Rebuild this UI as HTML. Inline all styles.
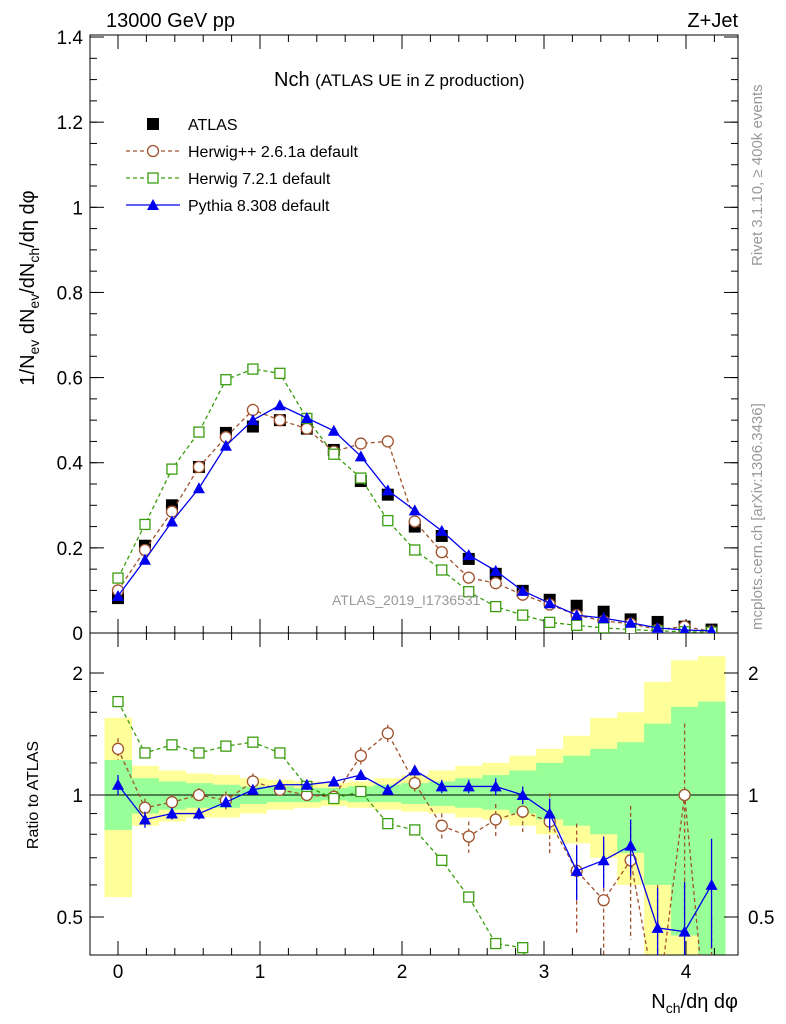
<!DOCTYPE html>
<html><head><meta charset="utf-8"><style>
html,body{margin:0;padding:0;background:#fff;overflow:hidden;width:786px;height:1024px;}
svg{display:block;font-family:"Liberation Sans",sans-serif;}
</style></head><body>
<svg id="chart" width="786" height="1024" viewBox="0 0 786 1024"></svg>
<script>
const xs=[0,0.19,0.38,0.57,0.76,0.95,1.14,1.33,1.52,1.71,1.90,2.09,2.28,2.47,2.66,2.85,3.04,3.23,3.42,3.61,3.80,3.99,4.18];
const atlas=[0.082,0.205,0.30,0.39,0.47,0.485,0.50,0.48,0.43,0.357,0.325,0.25,0.228,0.174,0.139,0.099,0.078,0.064,0.05,0.032,0.026,0.015,0.008];
const pythia=[0.087,0.172,0.262,0.34,0.44,0.50,0.535,0.505,0.475,0.415,0.335,0.288,0.24,0.183,0.146,0.099,0.07,0.042,0.035,0.024,0.012,0.007,0.005];
const herwigpp=[0.10,0.195,0.285,0.39,0.46,0.524,0.50,0.48,0.426,0.445,0.45,0.262,0.19,0.13,0.117,0.09,0.067,0.042,0.028,0.022,0.008,0.015,0.004];
const herwig7=[0.129,0.255,0.385,0.472,0.595,0.62,0.61,0.504,0.42,0.364,0.264,0.195,0.148,0.097,0.062,0.042,0.025,0.018,0.012,0.008,0.005,0.003,0.002];
const ratioPythia=[1.06,0.87,0.9,0.9,0.96,1.03,1.06,1.06,1.08,1.12,1.03,1.15,1.05,1.05,1.05,1.0,0.9,0.65,0.69,0.75,0.47,0.46,0.6];
const ratioPythiaErr=[0.06,0.04,0.03,0.03,0.03,0.03,0.03,0.03,0.03,0.03,0.03,0.03,0.04,0.04,0.05,0.05,0.08,0.1,0.1,0.12,0.12,0.15,0.18];
const ratioHpp=[1.3,0.93,0.96,1.0,0.97,1.08,1.03,1.0,0.99,1.25,1.42,1.07,0.84,0.79,0.87,0.91,0.86,0.65,0.55,0.69,0.3,1.0,0.2];
const ratioHppErr=[0.08,0.05,0.04,0.04,0.05,0.05,0.04,0.04,0.04,0.06,0.07,0.06,0.06,0.07,0.08,0.1,0.15,0.2,0.2,0.25,0.3,0.5,0.3];
const ratioH7=[1.7,1.27,1.33,1.27,1.32,1.35,1.27,1.05,0.98,1.02,0.85,0.82,0.69,0.56,0.43,0.42,0.2,0.2,0.2,0.2,0.2,0.2,0.2];
const yelLo=[0.56,0.84,0.86,0.88,0.88,0.9,0.92,0.93,0.94,0.93,0.92,0.91,0.9,0.88,0.87,0.84,0.8,0.76,0.7,0.6,0.4,0.3,0.3];
const yelHi=[1.55,1.18,1.15,1.13,1.12,1.1,1.09,1.08,1.07,1.08,1.1,1.12,1.15,1.18,1.2,1.25,1.3,1.4,1.55,1.6,1.9,2.15,2.2];
const grnLo=[0.82,0.9,0.92,0.93,0.93,0.95,0.96,0.96,0.97,0.96,0.96,0.95,0.94,0.93,0.92,0.9,0.87,0.84,0.8,0.72,0.6,0.45,0.4];
const grnHi=[1.22,1.1,1.08,1.07,1.06,1.05,1.05,1.04,1.04,1.05,1.06,1.07,1.08,1.1,1.12,1.15,1.2,1.25,1.3,1.35,1.5,1.65,1.7];
const mainTicks=[0,0.2,0.4,0.6,0.8,1,1.2,1.4];
const xTicks=[0,1,2,3,4];

const NS="http://www.w3.org/2000/svg";
const svg=document.getElementById('chart');
const L=90,R=738,MT=35,MB=633,RB=955;
const X=v=>118+v*142;
const Y=v=>633-v*425.7;
const YR=v=>795-Math.log2(v)*122;
function el(t,a,p){const e=document.createElementNS(NS,t);for(const k in a)e.setAttribute(k,a[k]);(p||svg).appendChild(e);return e;}
function txt(x,y,s,a){const e=el('text',Object.assign({x:x,y:y,'font-size':18,fill:'#000'},a||{}));e.textContent=s;return e;}

const defs=el('defs',{});
const cp=el('clipPath',{id:'rc'},defs);el('rect',{x:L,y:MB,width:R-L,height:RB-MB},cp);
const cm=el('clipPath',{id:'mc'},defs);el('rect',{x:L,y:MT,width:R-L,height:MB-MT},cm);

const gb=el('g',{'clip-path':'url(#rc)'});


xs.forEach((v,i)=>{
 const r=el('rect',{x:X(v)-13.5,y:YR(yelHi[i]),width:27.5,height:YR(yelLo[i])-YR(yelHi[i]),fill:'#ffff99'},gb);
 
 
});
xs.forEach((v,i)=>{
 const r=el('rect',{x:X(v)-13.5,y:YR(grnHi[i]),width:27.5,height:YR(grnLo[i])-YR(grnHi[i]),fill:'#99ff99'},gb);
 
 
});
el('line',{x1:L,x2:R,y1:YR(1),y2:YR(1),stroke:'#000','stroke-width':1},gb);

const f1=el('rect',{x:L,y:MT,width:R-L,height:MB-MT,fill:'none',stroke:'#000','stroke-width':1});

const f2=el('rect',{x:L,y:MB,width:R-L,height:RB-MB,fill:'none',stroke:'#000','stroke-width':1});


mainTicks.forEach(t=>{
 const y=Y(t);
 el('line',{x1:L,x2:L+14,y1:y,y2:y,stroke:'#000'});el('line',{x1:R,x2:R-14,y1:y,y2:y,stroke:'#000'});
 const lb=txt(83,y+7,String(t),{'text-anchor':'end','font-size':19});
 
});
for(let t=0.05;t<1.4;t+=0.05){const y=Y(t);el('line',{x1:L,x2:L+7,y1:y,y2:y,stroke:'#000'});el('line',{x1:R,x2:R-7,y1:y,y2:y,stroke:'#000'});}
xTicks.forEach(t=>{
 const x=X(t);
 [[MB,MB-14],[MT,MT+14],[RB,RB-14],[MB,MB+14]].forEach(p=>el('line',{x1:x,x2:x,y1:p[0],y2:p[1],stroke:'#000'}));
 const lb=txt(x,978,String(t),{'text-anchor':'middle','font-size':19});
 
});
for(let t=-0.2;t<4.4;t+=0.2){const x=X(t);if(x<L||x>R)continue;[[MB,MB-7],[MT,MT+7],[RB,RB-7],[MB,MB+7]].forEach(p=>el('line',{x1:x,x2:x,y1:p[0],y2:p[1],stroke:'#000'}));}
[[2,'2'],[1,'1'],[0.5,'0.5']].forEach(p=>{const y=YR(p[0]);el('line',{x1:L,x2:L+14,y1:y,y2:y,stroke:'#000'});el('line',{x1:R,x2:R-14,y1:y,y2:y,stroke:'#000'});
 const a=txt(83,y+7,p[1],{'text-anchor':'end','font-size':19});
 const b=txt(748,y+7,p[1],{'font-size':19});});
[0.6,0.7,0.8,0.9,1.2,1.4,1.6,1.8].forEach(t=>{const y=YR(t);el('line',{x1:L,x2:L+7,y1:y,y2:y,stroke:'#000'});el('line',{x1:R,x2:R-7,y1:y,y2:y,stroke:'#000'});});

function series(vals,yf,color,dash,marker,name,clip,errs){
 const g=el('g',{'clip-path':clip});
 
 const pts=xs.map((v,i)=>X(v)+','+yf(vals[i])).join(' ');
 el('polyline',{points:pts,fill:'none',stroke:color,'stroke-width':1.3,'stroke-dasharray':dash||'none'},g);
 xs.forEach((v,i)=>{
  const x=X(v),y=yf(vals[i]);
  if(errs){const e=errs[i];el('line',{x1:x,x2:x,y1:yf(vals[i]+e),y2:yf(Math.max(vals[i]-e,0.05)),stroke:color,'stroke-width':1.3,'stroke-dasharray':dash||'none'},g);}
  let m;
  if(marker==='circle')m=el('circle',{cx:x,cy:y,r:5.5,fill:'#fff',stroke:color,'stroke-width':1.3},g);
  else if(marker==='square')m=el('rect',{x:x-5,y:y-5,width:10,height:10,fill:'#fff',stroke:color,'stroke-width':1.3},g);
  else if(marker==='tri')m=el('path',{d:`M${x},${y-6} L${x+6},${y+5} L${x-6},${y+5} Z`,fill:color},g);
  else m=el('rect',{x:x-6,y:y-6,width:12,height:12,fill:'#000'},g);
  
 });
}
series(atlas,Y,'#000','0 100',null,'atlas-data','url(#mc)');
series(herwigpp,Y,'#a0522d','4,3','circle','herwigpp-main','url(#mc)');
series(herwig7,Y,'#3a9d0f','4,3','square','herwig7-main','url(#mc)');
series(pythia,Y,'#0000ee',null,'tri','pythia-main','url(#mc)');
series(ratioHpp,YR,'#a0522d','4,3','circle','herwigpp-ratio','url(#rc)',ratioHppErr);
series(ratioH7,YR,'#3a9d0f','4,3','square','herwig7-ratio','url(#rc)');
series(ratioPythia,YR,'#0000ee',null,'tri','pythia-ratio','url(#rc)',ratioPythiaErr);

let t;
t=txt(106,27,'13000 GeV pp',{'font-size':20});
t=txt(738,27,'Z+Jet',{'font-size':20,'text-anchor':'end'});
t=txt(274,86,'',{'font-size':20});t.innerHTML='Nch <tspan font-size="17">(ATLAS UE in Z production)</tspan>';
t=txt(332,605,'ATLAS_2019_I1736531',{'font-size':14,fill:'#999'});
const lg=el('g',{});
const leg=[['ATLAS','#000',null,null],['Herwig++ 2.6.1a default','#a0522d','4,3','circle'],['Herwig 7.2.1 default','#3a9d0f','4,3','square'],['Pythia 8.308 default','#0000ee',null,'tri']];
leg.forEach((l,i)=>{
 const y=124+i*27,x=153;
 if(i>0)el('line',{x1:126,x2:180,y1:y,y2:y,stroke:l[1],'stroke-width':1.3,'stroke-dasharray':l[2]||'none'},lg);
 if(l[3]==='circle')el('circle',{cx:x,cy:y,r:5.5,fill:'#fff',stroke:l[1],'stroke-width':1.3},lg);
 else if(l[3]==='square')el('rect',{x:x-5,y:y-5,width:10,height:10,fill:'#fff',stroke:l[1],'stroke-width':1.3},lg);
 else if(l[3]==='tri')el('path',{d:`M${x},${y-6} L${x+6},${y+5} L${x-6},${y+5} Z`,fill:l[1]},lg);
 else el('rect',{x:x-6,y:y-6,width:12,height:12,fill:'#000'},lg);
 const e=txt(188,y+6,l[0],{'font-size':16});
});
t=txt(0,0,'',{'font-size':20,transform:'translate(34,288) rotate(-90)','text-anchor':'middle'});
t.innerHTML='1/N<tspan font-size="14" dy="5">ev</tspan><tspan dy="-5"> dN</tspan><tspan font-size="14" dy="5">ev</tspan><tspan dy="-5">/dN</tspan><tspan font-size="14" dy="5">ch</tspan><tspan dy="-5">/dη dφ</tspan>';

t=txt(0,0,'Ratio to ATLAS',{'font-size':16,transform:'translate(38,795) rotate(-90)','text-anchor':'middle'});
t=txt(738,1008,'',{'font-size':20,'text-anchor':'end'});t.innerHTML='N<tspan font-size="14" dy="5">ch</tspan><tspan dy="-5">/dη dφ</tspan>';
t=txt(0,0,'Rivet 3.1.10, ≥ 400k events',{'font-size':15,fill:'#999',transform:'translate(762,266) rotate(-90)'});
t=txt(0,0,'mcplots.cern.ch [arXiv:1306.3436]',{'font-size':15,fill:'#999',transform:'translate(762,630) rotate(-90)'});
</script>
</body></html>
